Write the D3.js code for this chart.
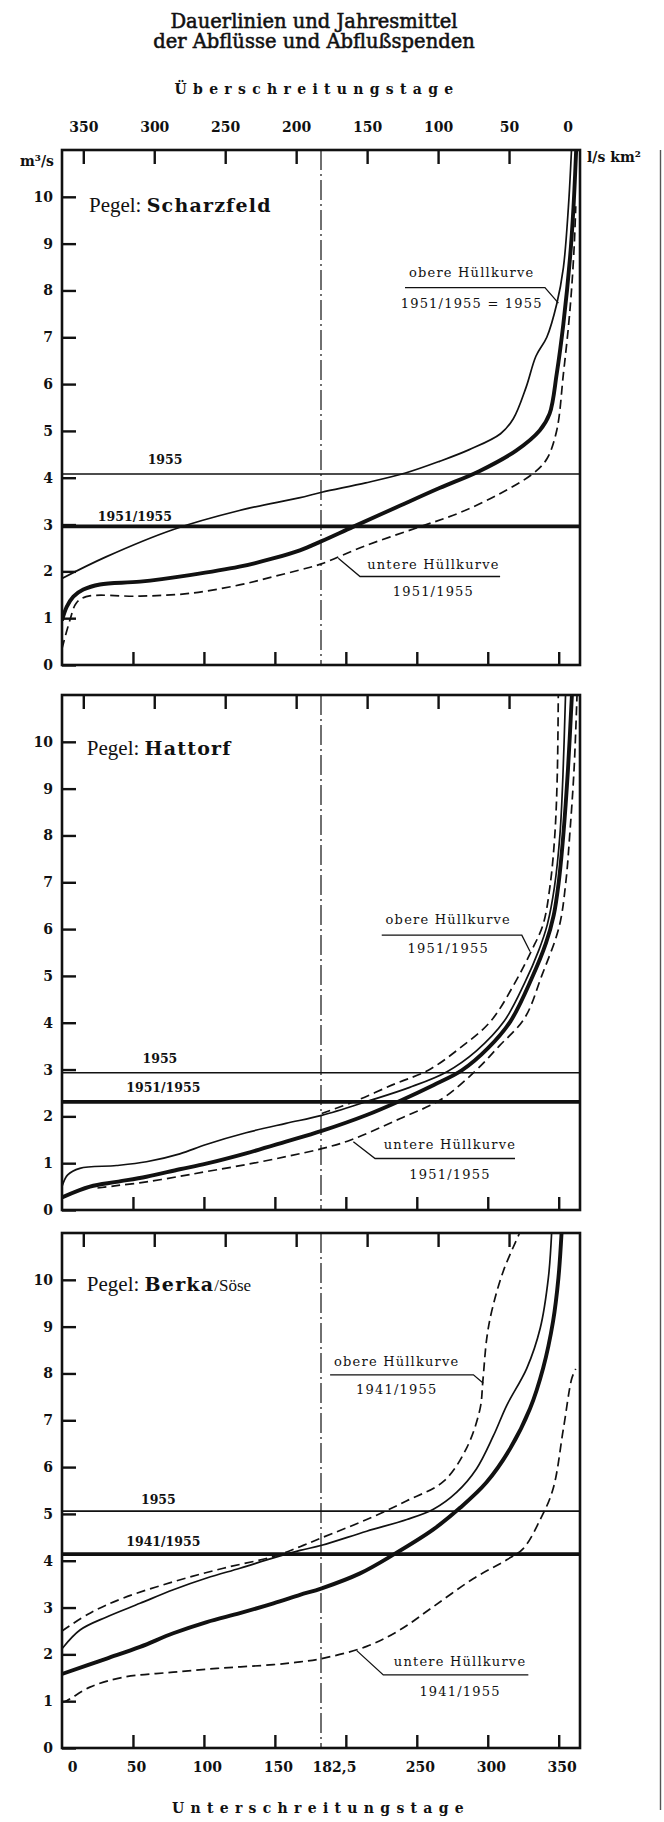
<!DOCTYPE html>
<html>
<head>
<meta charset="utf-8">
<!-- D3js-->
<script src="https://cdnjs.cloudflare.com/ajax/libs/d3/7.8.5/d3.min.js"></script>
<style>
  body { margin: 0; background: #fff; }
  svg text { font-family: "DejaVu Serif", "Liberation Serif", serif; fill: #111; }
  .tick text { font-weight: bold; font-size: 14px; }
  .tick line { stroke: #111; stroke-width: 2.4; }
  .title { font-size: 19.5px; stroke: #111; stroke-width: 0.55; }
  .axislabel { font-size: 14px; font-weight: bold; letter-spacing: 6.3px; }
  .unit { font-size: 14px; font-weight: bold; }
  .pegel { font-size: 19px; }
  .pegel .lbl { font-family: "Liberation Serif", serif; font-size: 21px; }
  .pegel .nm { font-weight: bold; letter-spacing: 1.2px; }
  .year { font-size: 12.5px; font-weight: bold; }
  .note { font-size: 13px; letter-spacing: 1.2px; }
</style>
</head>
<body>
<div id="chart"></div>
<script>
// ---- data: [Unterschreitungstage, Abfluss m3/s] ----

// Pegel Scharzfeld 1951/1955
var scharzfeld1955 = [[0,1.85],[31,2.31],[78,2.89],[125,3.30],[167,3.57],[183,3.69],[214,3.89],[242,4.10],[266,4.35],
  [287,4.60],[309,4.94],[318,5.26],[327,5.93],[334,6.60],[341.6,7.0],[348.6,7.71],[353.3,8.49],[356.8,9.77],[359,11]];
var scharzfeldMean = [[0,0.95],[3.3,1.24],[8,1.46],[15,1.61],[26.7,1.72],[55,1.78],[90,1.92],[125,2.10],[148,2.27],
  [167.6,2.45],[182.5,2.64],[205,2.95],[238,3.40],[266,3.78],[294,4.14],[320,4.58],[336.6,5.01],[343.6,5.37],
  [348.6,6.22],[353.3,7.29],[358,8.71],[360.4,9.77],[362.3,11]];
var scharzfeldLower = [[0,0.35],[5.6,0.96],[10,1.32],[17,1.46],[55,1.47],[90,1.53],[125,1.71],[148,1.88],[167.6,2.03],
  [182.7,2.16],[214,2.55],[252,2.95],[280,3.25],[308.5,3.66],[332,4.09],[341.6,4.40],[348.6,5.01],[353.3,6.22],
  [356.8,7.21],[359,8.0],[361,9.0],[362,9.8]];
var scharzfeldMQ = [4.08, 2.96];   // 1955, 1951/1955

// Pegel Hattorf 1951/1955
var hattorf1955 = [[0,0.5],[4,0.75],[12.6,0.89],[38.4,0.95],[59.5,1.03],[83,1.2],[101.6,1.4],[129.7,1.65],[157.8,1.85],
  [183,2.02],[216,2.33],[245,2.62],[271,2.95],[292,3.4],[311.5,4.03],[326,4.85],[336,5.55],[342,6.1],[347,6.9],
  [350.9,8.03],[353,9.3],[354.8,11]];
var hattorfMean = [[0,0.27],[19.7,0.50],[38.4,0.60],[59.5,0.71],[83,0.87],[101.6,0.99],[129.7,1.21],[157.8,1.46],
  [183,1.69],[214.7,2.03],[238,2.33],[262,2.67],[281.7,2.98],[300,3.45],[316,4.03],[331,4.95],[341,5.7],[346.5,6.3],
  [350,7.0],[353.3,8.03],[356.5,9.4],[359.3,11]];
var hattorfUpper = [[183,2.06],[207,2.33],[235,2.7],[257.8,2.98],[280,3.45],[302,4.03],[320,4.9],[331,5.55],[339,6.1],
  [344,6.95],[347.3,8.03],[349,9.3],[349.7,11]];
var hattorfLower = [[25,0.47],[38.4,0.52],[59.5,0.60],[83,0.72],[101.6,0.82],[129.7,0.97],[157.8,1.14],[183,1.31],
  [203,1.49],[238,1.95],[267,2.36],[290.6,2.95],[308,3.5],[326,4.1],[338,5.0],[350.3,6.05],[355,7.0],[357.8,8.03],
  [360.8,9.4],[362.9,11]];
var hattorfMQ = [2.93, 2.31];

// Pegel Berka/Söse 1941/1955
var berka1955 = [[0,2.12],[12.7,2.52],[31.5,2.80],[55,3.09],[78.4,3.38],[102,3.63],[125.4,3.84],[149,4.06],[167.7,4.22],
  [183,4.33],[214.7,4.63],[243,4.88],[261.7,5.10],[278,5.46],[292,5.96],[304,6.67],[313.4,7.32],[327.5,8.11],
  [337,8.97],[342.7,10.04],[345,11]];
var berkaMean = [[0,1.58],[31.5,1.91],[55,2.16],[78.4,2.45],[102,2.69],[125.4,2.88],[149,3.09],[167.7,3.27],[183,3.41],
  [210,3.73],[233.5,4.13],[261.7,4.67],[280.5,5.13],[299,5.67],[315.7,6.39],[329.8,7.25],[339,8.11],[346,9.11],
  [349.8,10.04],[352,11]];
var berkaUpper = [[0,2.5],[19.7,2.88],[43,3.20],[78.4,3.55],[113.7,3.84],[149,4.09],[167.7,4.30],[183,4.49],[214.7,4.88],
  [243,5.28],[269,5.70],[285,6.40],[294.6,7.25],[296.5,7.82],[299.3,8.75],[302.8,9.33],[311,10.19],[322.5,11]];
var berkaLower = [[0,0.98],[3.3,1.01],[19.7,1.30],[43,1.51],[78.4,1.62],[113.7,1.71],[149,1.78],[167.7,1.84],[183,1.91],
  [214.7,2.17],[238,2.52],[261.7,3.02],[290,3.62],[313.4,4.02],[325,4.26],[337,4.88],[346,5.53],[353.3,6.82],
  [359.2,7.89],[362,8.1]];
var berkaMQ = [5.06, 4.14];

// tick labels
var yTicks = [0,1,2,3,4,5,6,7,8,9,10];
var overTicks = [350,300,250,200,150,100,50];
var underTicks = [50,100,150,200,250,300,350];
var underLabels = [0,50,100,150,182.5,250,300,350];

var panels = [
  { name: 'Scharzfeld', suffix: '', period: '1951/1955', upperNote: '1951/1955 = 1955',
    thin: scharzfeld1955, thick: scharzfeldMean, upper: null, lower: scharzfeldLower, mq: scharzfeldMQ,
    pegelAt: [19, 9.68], mq1955At: [72.6, 4.29], mqPeriodAt: [51.4, 3.08],
    upNote: { text: [288.7, 8.28, 7.62], line: [[241.7, 8.06], [340.3, 8.06], [349.8, 7.73]] },
    lowNote: { text: [261.7, 2.05, 1.47], line: [[194.7, 2.28], [210, 1.89], [308.7, 1.89]] } },
  { name: 'Hattorf', suffix: '', period: '1951/1955', upperNote: '1951/1955',
    thin: hattorf1955, thick: hattorfMean, upper: hattorfUpper, lower: hattorfLower, mq: hattorfMQ,
    pegelAt: [17.5, 9.71], mq1955At: [69, 3.13], mqPeriodAt: [71.4, 2.51],
    upNote: { text: [272.2, 6.11, 5.50], line: [[225.3, 5.87], [324, 5.87], [329.8, 5.52]] },
    lowNote: { text: [273.4, 1.30, 0.66], line: [[205.3, 1.46], [220.6, 1.10], [319.2, 1.10]] } },
  { name: 'Berka', suffix: '/Söse', period: '1941/1955', upperNote: '1941/1955',
    thin: berka1955, thick: berkaMean, upper: berkaUpper, lower: berkaLower, mq: berkaMQ,
    pegelAt: [17.5, 9.77], mq1955At: [67.9, 5.22], mqPeriodAt: [71.4, 4.31],
    upNote: { text: [235.9, 8.16, 7.57], line: [[188.9, 7.97], [289.9, 7.97], [296.9, 7.79]] },
    lowNote: { text: [280.5, 1.75, 1.11], line: [[207.7, 2.08], [226.4, 1.56], [328.6, 1.56]] } }
];

var width = 664, height = 1822;
var panelTops = [150, 695, 1233];
var panelH = 515;

var x = d3.scaleLinear().domain([0, 365]).range([62, 580]);
var xOver = d3.scaleLinear().domain([365, 0]).range([62, 580]);

var svg = d3.select('#chart').append('svg')
    .attr('width', width)
    .attr('height', height);

// header
svg.append('text').attr('class', 'title').attr('x', 314).attr('y', 28)
   .attr('text-anchor', 'middle').text('Dauerlinien und Jahresmittel');
svg.append('text').attr('class', 'title').attr('x', 314).attr('y', 48)
   .attr('text-anchor', 'middle').text('der Abflüsse und Abflußspenden');
svg.append('text').attr('class', 'axislabel').attr('x', 317).attr('y', 94)
   .attr('text-anchor', 'middle').text('Überschreitungstage');
svg.append('text').attr('class', 'axislabel').attr('x', 321).attr('y', 1813)
   .attr('text-anchor', 'middle').text('Unterschreitungstage');
svg.append('text').attr('class', 'unit').attr('x', 54).attr('y', 166)
   .attr('text-anchor', 'end').text('m³/s');
svg.append('text').attr('class', 'unit').attr('x', 587).attr('y', 162).text('l/s km²');

// page edge of the scan
svg.append('line').attr('x1', 660.5).attr('x2', 660.5).attr('y1', 150).attr('y2', 1810)
   .attr('stroke', '#555').attr('stroke-width', 1.4);

panels.forEach(function(p, i) {
    var top = panelTops[i];
    var y = d3.scaleLinear().domain([0, 11]).range([top + panelH, top]);
    var g = svg.append('g');

    var clipId = 'clip' + i;
    svg.append('clipPath').attr('id', clipId).append('rect')
       .attr('x', x(0)).attr('y', top).attr('width', x(365) - x(0)).attr('height', panelH);

    var line = d3.line()
        .x(function(d) { return x(d[0]); })
        .y(function(d) { return y(d[1]); })
        .curve(d3.curveCatmullRom.alpha(0.5));

    var plot = g.append('g').attr('clip-path', 'url(#' + clipId + ')');

    // 182,5 day line
    plot.append('line')
        .attr('x1', x(182.5)).attr('x2', x(182.5)).attr('y1', top).attr('y2', top + panelH)
        .attr('stroke', '#111').attr('stroke-width', 1.2).attr('stroke-dasharray', '20,4,2,4');

    // mean discharge lines
    plot.append('line')
        .attr('x1', x(0)).attr('x2', x(365)).attr('y1', y(p.mq[0])).attr('y2', y(p.mq[0]))
        .attr('stroke', '#111').attr('stroke-width', 1.6);
    plot.append('line')
        .attr('x1', x(0)).attr('x2', x(365)).attr('y1', y(p.mq[1])).attr('y2', y(p.mq[1]))
        .attr('stroke', '#111').attr('stroke-width', 3.6);

    // duration curves
    [p.lower, p.upper].forEach(function(s) {
        if (!s) return;
        plot.append('path').datum(s).attr('d', line)
            .attr('fill', 'none').attr('stroke', '#111').attr('stroke-width', 1.7)
            .attr('stroke-dasharray', '9,5');
    });
    plot.append('path').datum(p.thin).attr('d', line)
        .attr('fill', 'none').attr('stroke', '#111').attr('stroke-width', 1.7);
    plot.append('path').datum(p.thick).attr('d', line)
        .attr('fill', 'none').attr('stroke', '#111').attr('stroke-width', 3.9);

    // frame
    g.append('rect')
        .attr('x', x(0)).attr('y', top).attr('width', x(365) - x(0)).attr('height', panelH)
        .attr('fill', 'none').attr('stroke', '#111').attr('stroke-width', 2.6);

    // axes
    g.append('g').attr('transform', 'translate(' + x(0) + ',0)')
        .call(d3.axisLeft(y).tickValues(yTicks).tickSize(-14).tickPadding(9))
        .call(function(a) { a.select('.domain').remove(); });

    var topAxis = d3.axisTop(xOver).tickValues(overTicks).tickSize(-14).tickPadding(18);
    if (i > 0) topAxis.tickFormat('');
    g.append('g').attr('transform', 'translate(0,' + top + ')')
        .call(topAxis)
        .call(function(a) { a.select('.domain').remove(); });
    if (i == 0) {
        g.append('text').attr('x', xOver(0) - 12).attr('y', top - 18)
            .attr('text-anchor', 'middle').style('font-weight', 'bold').style('font-size', '14px').text('0');
    }

    g.append('g').attr('transform', 'translate(0,' + (top + panelH) + ')')
        .call(d3.axisBottom(x).tickValues(underTicks).tickSize(-13).tickFormat(''))
        .call(function(a) { a.select('.domain').remove(); });

    if (i == 2) {
        g.append('g').attr('transform', 'translate(0,' + (top + panelH) + ')')
            .call(d3.axisBottom(x).tickValues(underLabels).tickSize(0).tickPadding(14)
                  .tickFormat(function(d) { return String(d).replace('.', ','); }))
            .call(function(a) { a.select('.domain').remove(); })
            .selectAll('text')
            .attr('dx', function(d) { return d == 0 ? 10 : (d == 182.5 ? 13 : 3); });
    }

    // labels
    var pg = g.append('text').attr('class', 'pegel')
        .attr('x', x(p.pegelAt[0])).attr('y', y(p.pegelAt[1]));
    pg.append('tspan').attr('class', 'lbl').text('Pegel: ');
    pg.append('tspan').attr('class', 'nm').text(p.name);
    if (p.suffix) pg.append('tspan').attr('class', 'lbl').style('font-size', '17px').text(p.suffix);

    g.append('text').attr('class', 'year').attr('text-anchor', 'middle')
        .attr('x', x(p.mq1955At[0])).attr('y', y(p.mq1955At[1])).text('1955');
    g.append('text').attr('class', 'year').attr('text-anchor', 'middle')
        .attr('x', x(p.mqPeriodAt[0])).attr('y', y(p.mqPeriodAt[1])).text(p.period);

    var lead = d3.line().x(function(d) { return x(d[0]); }).y(function(d) { return y(d[1]); });
    [p.upNote, p.lowNote].forEach(function(n, k) {
        g.append('path').datum(n.line).attr('d', lead)
            .attr('fill', 'none').attr('stroke', '#111').attr('stroke-width', 1.3);
        g.append('text').attr('class', 'note').attr('text-anchor', 'middle')
            .attr('x', x(n.text[0])).attr('y', y(n.text[1]))
            .text(k == 0 ? 'obere Hüllkurve' : 'untere Hüllkurve');
        g.append('text').attr('class', 'note').attr('text-anchor', 'middle')
            .attr('x', x(n.text[0])).attr('y', y(n.text[2]))
            .text(k == 0 ? p.upperNote : p.period);
    });
});
</script>
</body>
</html>
